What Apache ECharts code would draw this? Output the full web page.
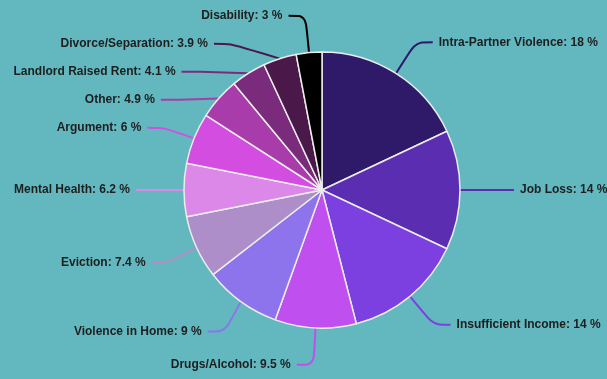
<!DOCTYPE html>
<html lang="en" style="height: 100%">

<head>
    <meta charset="utf-8" />
    <script src="https://cdn.jsdelivr.net/npm/echarts@6/dist/echarts.min.js"></script>
</head>

<body style="height: 100%; margin: 0">
    <div id="container" style="width: 607px;height: 379px;"></div>
    <script type="text/javascript">
        var dom = document.getElementById('container');
        var myChart = echarts.init(dom, null, {
            renderer: 'canvas'
        });

        // reasons, clockwise from 12 o'clock
        const reasons = [
            'Intra-Partner Violence',
            'Job Loss',
            'Insufficient Income',
            'Drugs/Alcohol',
            'Violence in Home',
            'Eviction',
            'Mental Health',
            'Argument',
            'Other',
            'Landlord Raised Rent',
            'Divorce/Separation',
            'Disability'
        ];
        const percents = [18, 14, 14, 9.5, 9, 7.4, 6.2, 6, 4.9, 4.1, 3.9, 3];
        const colors = [
            '#2e1a68', '#5b2eb1', '#7b40df', '#c04ff0', '#8d73ec', '#ae8ec8',
            '#dc88e8', '#d44de1', '#a83cab', '#7b2b7c', '#4a1949', '#000000'
        ];

        var option = {
            backgroundColor: '#63b8c0',
            color: colors,
            series: [{
                type: 'pie',
                center: [322, 190],
                radius: 138,
                startAngle: 90,
                clockwise: true,
                avoidLabelOverlap: true,
                itemStyle: {
                    borderColor: '#ececec',
                    borderWidth: 1.5
                },
                label: {
                    show: true,
                    formatter: '{b}: {c} %',
                    color: '#1e1e1e',
                    fontFamily: 'Liberation Sans, Arial, sans-serif',
                    fontWeight: 'bold',
                    fontSize: 12,
                    lineHeight: 26,
                    width: 170,
                    overflow: 'none',
                    distanceToLabelLine: 6
                },
                labelLine: {
                    show: true,
                    length: 37,
                    length2: 17,
                    smooth: true,
                    lineStyle: {
                        width: 2
                    }
                },
                emphasis: { disabled: true },
                data: reasons.map(function (name, i) {
                    return { name: name, value: percents[i] };
                })
            }]
        };

        myChart.setOption(option);
        window.addEventListener('resize', myChart.resize);
    </script>
</body>

</html>
